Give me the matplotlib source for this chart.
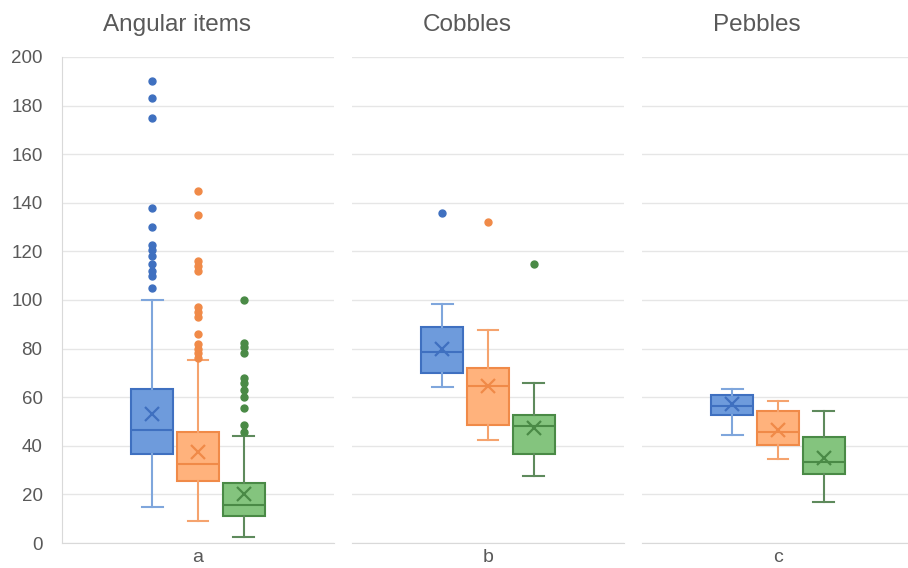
import matplotlib
matplotlib.use('Agg')
import matplotlib.pyplot as plt

plt.rcParams['font.family'] = ['Liberation Sans', 'DejaVu Sans']

titles = ['Angular items', 'Cobbles', 'Pebbles']
categories = ['a', 'b', 'c']
yticks = [0, 20, 40, 60, 80, 100, 120, 140, 160, 180, 200]

# box statistics per panel (a, b, c)
blue_low = [15, 64, 44.5]
blue_q1 = [36.5, 70, 52.5]
blue_med = [46.5, 78.5, 56.5]
blue_q3 = [63.5, 89, 61]
blue_high = [100, 98.5, 63.5]
blue_mean = [53, 80, 57]
blue_fliers = [[105, 110, 112, 115, 118, 120.5, 122.5, 130, 138, 175, 183, 190], [136], []]

orange_low = [9, 42.5, 34.5]
orange_q1 = [25.5, 48.5, 40.5]
orange_med = [32.5, 64.5, 45.5]
orange_q3 = [45.5, 72, 54.5]
orange_high = [75.5, 87.5, 58.5]
orange_mean = [37.5, 64.5, 46.5]
orange_fliers = [[76, 78, 80, 82, 86, 93, 95, 97, 112, 114, 116, 135, 145], [132], []]

green_low = [2.5, 27.5, 17]
green_q1 = [11, 36.5, 28.5]
green_med = [15.5, 48, 33.5]
green_q3 = [24.5, 52.5, 43.5]
green_high = [44, 66, 54.5]
green_mean = [20, 47.5, 35]
green_fliers = [[45.5, 48.5, 55.5, 60, 63, 66, 68, 78, 80.5, 82.5, 100], [115], []]

series = [
    (blue_low, blue_q1, blue_med, blue_q3, blue_high, blue_mean, blue_fliers),
    (orange_low, orange_q1, orange_med, orange_q3, orange_high, orange_mean, orange_fliers),
    (green_low, green_q1, green_med, green_q3, green_high, green_mean, green_fliers),
]
fills = ['#6e9bdc', '#ffb27c', '#84c47e']
edges = ['#3f70c0', '#f08a48', '#4a8a46']
whisk = ['#7fa6dc', '#f5a36e', '#5e8a5c']
offsets = [-0.169, 0, 0.169]

W, H = 908, 568
fig = plt.figure(figsize=(W / 100, H / 100), dpi=100)
bottom, top = 1 - 543 / H, 1 - 57 / H

for p in range(3):
    # panels 272 px wide, 290 px apart
    ax = fig.add_axes([(62 + 290 * p) / W, bottom, 272 / W, top - bottom])
    for s, (lo, q1, med, q3, hi, mean, fl) in enumerate(series):
        stats = [dict(whislo=lo[p], q1=q1[p], med=med[p], q3=q3[p], whishi=hi[p],
                      mean=mean[p], fliers=fl[p])]
        ax.bxp(stats, positions=[offsets[s]], widths=0.154, patch_artist=True,
               showmeans=True, manage_ticks=False,
               boxprops=dict(facecolor=fills[s], edgecolor=edges[s], linewidth=1.5),
               medianprops=dict(color=edges[s], linewidth=1.5),
               whiskerprops=dict(color=whisk[s], linewidth=1.5),
               capprops=dict(color=whisk[s], linewidth=1.5),
               meanprops=dict(marker='x', markeredgecolor=edges[s], markersize=10,
                              markeredgewidth=1.6),
               flierprops=dict(marker='o', markerfacecolor=edges[s], markeredgecolor=edges[s],
                               markersize=5, clip_on=False))
    ax.set_xlim(-0.5, 0.5)
    ax.set_ylim(0, 200)
    ax.set_yticks(yticks)
    ax.set_xticks([0])
    ax.set_xticklabels([categories[p]], fontsize=14, color='#595959')
    ax.grid(axis='y', color='#e6e6e6', linewidth=1)
    ax.set_axisbelow(True)
    for side in ['top', 'right']:
        ax.spines[side].set_visible(False)
    ax.spines['bottom'].set_color('#d9d9d9')
    if p == 0:
        ax.spines['left'].set_color('#d9d9d9')
        ax.tick_params(axis='y', labelsize=13.5, labelcolor='#595959', length=0, pad=14)
    else:
        ax.spines['left'].set_visible(False)
        ax.tick_params(axis='y', labelleft=False, length=0)
    ax.tick_params(axis='x', length=0, pad=4)
    # titles sit a little left of the panel centre
    fig.text((62 + 290 * p + 136 - 21) / W, 1 - 31 / H, titles[p], fontsize=17.5,
             color='#595959', ha='center', va='baseline')

fig.savefig('out.png', dpi=100)
